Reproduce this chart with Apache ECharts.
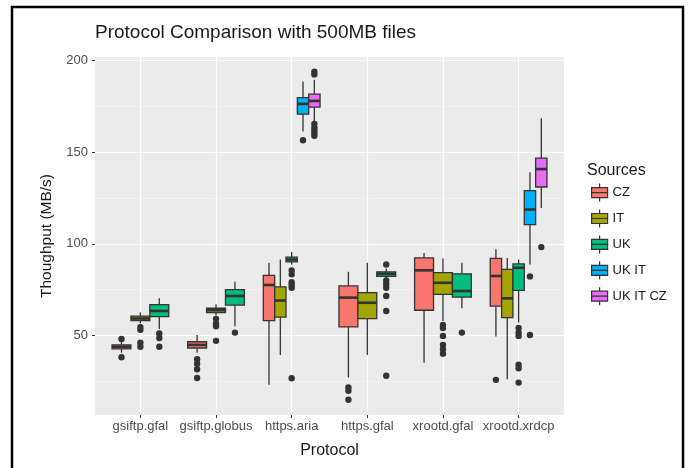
<!DOCTYPE html>
<html lang="en">
<head>
<meta charset="UTF-8">
<title>Protocol Comparison with 500MB files</title>
<style>
    * { margin: 0; padding: 0; }
    body { background: #fff; }
    #chart { width: 691px; height: 468px; }
</style>
</head>
<body>
<div id="chart"></div>
<script src="https://cdn.jsdelivr.net/npm/echarts@6/dist/echarts.min.js"></script>
<script>
// categories on the x axis
var categories = ['gsiftp.gfal', 'gsiftp.globus', 'https.aria', 'https.gfal', 'xrootd.gfal', 'xrootd.xrdcp'];
var sources = ['CZ', 'IT', 'UK', 'UK IT', 'UK IT CZ'];
var colors = ['#F8766D', '#A3A500', '#00BF7D', '#00B0F6', '#E76BF3'];
var yTicks = [50, 100, 150, 200];
var yMinorTicks = [25, 75, 125, 175];

// [min, q1, median, q3, max] per category, null = no data
var boxCZ = [[40.5, 42.6, 43.8, 44.8, 46.5], [40.5, 43.1, 44.8, 46.5, 50.2], [23, 58, 77.5, 82.7, 89.6], [27, 54.6, 70.6, 77, 84.7], [35, 63.7, 85.5, 92.3, 95], [49.3, 66, 82.4, 92, 97]];
var boxIT = [[56.5, 58, 59.2, 60.5, 62.5], [60.8, 62.4, 63.7, 64.8, 67], [39.3, 60, 69, 76.5, 91.4], [39.3, 59.1, 67.8, 73.3, 89.6], [57.8, 72.4, 78.7, 84.2, 92], [26, 59.7, 70.2, 86, 92.3]];
var boxUK = [[53.5, 60.2, 63.3, 66.8, 70.2], [55, 66.5, 71.5, 75, 79.3], [88.5, 90.1, 91.4, 92.7, 95.5], [81, 82.2, 83.6, 84.7, 86.5], [64.8, 70.9, 74.2, 83.6, 89.6], [57, 74.6, 86.9, 89, 91.4]];
var boxUKIT = [null, null, [161.3, 170.8, 176.4, 179.8, 188.6], null, null, [88.7, 110.5, 118.7, 129, 139]];
var boxUKITCZ = [null, null, [167, 174.6, 178, 181.7, 189.5], null, null, [119.6, 131, 140.8, 146.8, 168.6]];

// outliers per category
var outCZ = [[48, 38], [37, 34.5, 31.5, 26.7], [], [21.5, 19.7, 14.8], [], [25.7]];
var outIT = [[54.5, 53, 46, 43.8], [59, 56.5, 55, 47], [], [], [55.7, 54, 49.7, 44.8, 42.4, 40], []];
var outUK = [[51, 48.5, 43.8], [51.5], [85.5, 83.3, 79, 77.5, 76, 26.6], [88.7, 80, 78, 76, 71.5, 63.3, 27.9], [51.5], [54, 51.5, 49.7, 34, 32, 24.2]];
var outUKIT = [[], [], [156.5], [], [], [82.2, 50.2]];
var outUKITCZ = [[], [], [194, 192.5, 165.5, 163.5, 162, 160.5, 159], [], [], [98.2]];

var boxes = [boxCZ, boxIT, boxUK, boxUKIT, boxUKITCZ];
var outs = [outCZ, outIT, outUK, outUKIT, outUKITCZ];

// slot of each source inside a category (dodge like ggplot)
function slotOf(s, c) {
    var k = 0, n = 0;
    for (var i = 0; i < sources.length; i++) {
        if (boxes[i][c]) {
            if (i < s) k++;
            n++;
        }
    }
    return [k, n];
}

function centerX(cat, slot, n) {
    var w = 0.75 / n;
    return cat - 0.375 + (slot + 0.5) * w;
}

function renderBox(params, api) {
    var cat = api.value(0), slot = api.value(1), n = api.value(2);
    var cx = centerX(cat, slot, n);
    var half = api.size([0.75 / n, 0])[0] / 2;
    var pMin = api.coord([cx, api.value(3)]);
    var pQ1 = api.coord([cx, api.value(4)]);
    var pMed = api.coord([cx, api.value(5)]);
    var pQ3 = api.coord([cx, api.value(6)]);
    var pMax = api.coord([cx, api.value(7)]);
    var line = { stroke: '#333', lineWidth: 1.3 };
    return {
        type: 'group',
        children: [
            { type: 'line', shape: { x1: pMax[0], y1: pMax[1], x2: pQ3[0], y2: pQ3[1] }, style: line },
            { type: 'line', shape: { x1: pQ1[0], y1: pQ1[1], x2: pMin[0], y2: pMin[1] }, style: line },
            { type: 'rect', shape: { x: pQ3[0] - half, y: pQ3[1], width: half * 2, height: Math.max(pQ1[1] - pQ3[1], 1) },
              style: { fill: api.visual('color'), stroke: '#333', lineWidth: 1.3 } },
            { type: 'line', shape: { x1: pMed[0] - half, y1: pMed[1], x2: pMed[0] + half, y2: pMed[1] },
              style: { stroke: '#333', lineWidth: 2.6 } }
        ]
    };
}

function renderOut(params, api) {
    var cx = centerX(api.value(0), api.value(1), api.value(2));
    var p = api.coord([cx, api.value(3)]);
    return { type: 'circle', shape: { cx: p[0], cy: p[1], r: 3.2 }, style: { fill: '#333' } };
}

var series = [];
sources.forEach(function (name, s) {
    var bd = [], od = [];
    for (var c = 0; c < categories.length; c++) {
        var b = boxes[s][c];
        if (!b) continue;
        var so = slotOf(s, c);
        bd.push([c, so[0], so[1]].concat(b));
        outs[s][c].forEach(function (v) {
            od.push([c, so[0], so[1], v]);
        });
    }
    series.push({
        name: name, type: 'custom', renderItem: renderBox,
        itemStyle: { color: colors[s], borderColor: '#333', borderWidth: 1.2 },
        encode: { x: 0, y: [3, 4, 5, 6, 7] },
        data: bd, silent: true, z: 3
    });
    series.push({
        name: name, type: 'custom', renderItem: renderOut,
        itemStyle: { color: colors[s] },
        encode: { x: 0, y: 3 },
        data: od, silent: true, z: 4
    });
});

var myChart = echarts.init(document.getElementById('chart'));
var option = {
    animation: false,
    backgroundColor: '#fff',
    title: [
        { text: 'Protocol Comparison with 500MB files', left: 90, top: 18,
          textStyle: { fontSize: 19, fontWeight: 'normal', color: '#1a1a1a', fontFamily: 'Liberation Sans' } },
        { text: 'Sources', left: 582, top: 158,
          textStyle: { fontSize: 16, fontWeight: 'normal', color: '#1a1a1a', fontFamily: 'Liberation Sans' } }
    ],
    graphic: [{
        type: 'rect', shape: { x: 12, y: 7, width: 671, height: 520 },
        style: { fill: 'none', stroke: '#000', lineWidth: 2.5 }, z: 100
    }],
    legend: {
        orient: 'vertical', left: 586, top: 178,
        itemWidth: 16, itemHeight: 18, itemGap: 6.7,
        icon: 'path://M8,0L8,4M0,4L16,4L16,14L0,14ZM0,9L16,9M8,14L8,18',
        itemStyle: { borderColor: '#333', borderWidth: 1.2 },
        textStyle: { fontSize: 13, color: '#1a1a1a', fontFamily: 'Liberation Sans' },
        selectedMode: false,
        data: sources
    },
    grid: {
        left: 95, top: 57, width: 469, height: 358,
        show: true, backgroundColor: '#EBEBEB', borderWidth: 0
    },
    xAxis: {
        type: 'value', min: -0.6, max: 5.6,
        name: 'Protocol', nameLocation: 'middle', nameGap: 28,
        nameTextStyle: { fontSize: 16, color: '#1a1a1a', fontFamily: 'Liberation Sans' },
        axisLine: { show: false, onZero: false },
        axisTick: { show: true, length: 3, lineStyle: { color: '#333' }, customValues: [0, 1, 2, 3, 4, 5] },
        axisLabel: {
            customValues: [0, 1, 2, 3, 4, 5], margin: 5,
            fontSize: 13, color: '#4D4D4D', fontFamily: 'Liberation Sans',
            formatter: function (v) { return categories[Math.round(v)]; }
        },
        splitLine: { show: true, lineStyle: { color: '#fff', width: 1.2 } }
    },
    yAxis: [{
        type: 'value', min: 6.5, max: 202,
        name: 'Thoughput (MB/s)', nameLocation: 'middle', nameGap: 40, nameRotate: 90,
        nameTextStyle: { fontSize: 15.5, color: '#1a1a1a', fontFamily: 'Liberation Sans' },
        axisLine: { show: false, onZero: false },
        axisTick: { show: true, length: 3, lineStyle: { color: '#333' }, customValues: yTicks },
        axisLabel: { customValues: yTicks, margin: 7, fontSize: 13, color: '#4D4D4D', fontFamily: 'Liberation Sans' },
        splitLine: { show: true, lineStyle: { color: '#fff', width: 1.2 } }
    }, {
        type: 'value', min: 6.5, max: 202, position: 'left',
        axisLine: { show: false, onZero: false },
        axisTick: { show: false, customValues: yMinorTicks },
        axisLabel: { show: false, customValues: yMinorTicks },
        splitLine: { show: true, lineStyle: { color: '#F7F7F7', width: 0.6 } }
    }],
    series: series
};
myChart.setOption(option);
</script>
</body>
</html>
